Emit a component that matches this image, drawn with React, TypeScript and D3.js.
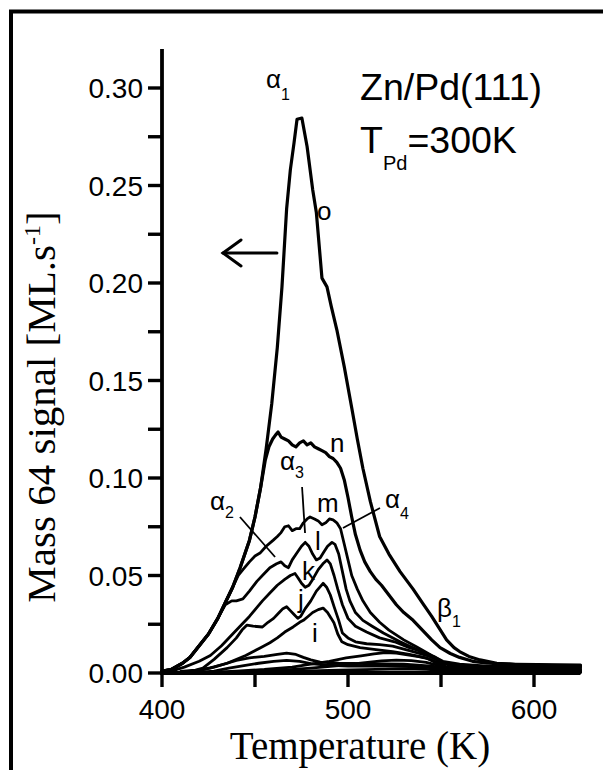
import React from "react";
import * as d3 from "d3";

// Thermal desorption spectra, mass 64 (Zn) from Zn/Pd(111), T_Pd = 300 K.
// Each series: [temperature (K), signal (ML/s)].
const curveO: [number, number][] = [
  [400, 0.001], [405, 0.0018], [411, 0.005], [415, 0.008], [420, 0.014], [425, 0.02], [430, 0.028],
  [434, 0.036], [438, 0.044], [442, 0.054], [447, 0.068], [450, 0.08], [453, 0.095], [456, 0.115],
  [459, 0.138], [462, 0.167], [464.5, 0.198], [467, 0.238], [469, 0.258], [471, 0.272], [472.6, 0.284],
  [475.2, 0.2846], [478, 0.27], [481, 0.248], [483, 0.236], [486, 0.2025], [488.7, 0.198], [491, 0.188],
  [494, 0.176], [498, 0.157], [502, 0.136], [505, 0.12], [508, 0.105], [512, 0.088], [517, 0.07],
  [522, 0.061], [528, 0.052], [535, 0.043], [540, 0.036], [545, 0.029], [549, 0.023], [553, 0.017],
  [557, 0.013], [560, 0.011], [565, 0.0085], [571, 0.0067], [580, 0.005], [592, 0.0042], [610, 0.0038],
  [625, 0.0035],
];

const curveN: [number, number][] = [
  [400, 0.001], [405, 0.0018], [411, 0.005], [415, 0.008], [420, 0.014], [425, 0.02], [430, 0.028],
  [434, 0.036], [438, 0.044], [442, 0.054], [447, 0.068], [450, 0.08], [453, 0.095], [455.5, 0.109],
  [457.5, 0.116], [459.5, 0.12], [461, 0.122], [462.4, 0.1236], [464, 0.121], [466, 0.12], [468, 0.119],
  [470, 0.117], [472, 0.116], [474, 0.118], [476, 0.119], [478, 0.117], [480, 0.118], [482, 0.116],
  [484, 0.115], [486, 0.114], [488, 0.113], [490, 0.111], [492, 0.11], [494, 0.108], [496, 0.105],
  [498, 0.099], [500, 0.09], [502, 0.08], [504, 0.071], [506.5, 0.063], [509, 0.057], [512, 0.052],
  [515, 0.048], [518, 0.045], [522, 0.04], [526, 0.035], [530, 0.031], [535, 0.027], [540, 0.022],
  [545, 0.017], [549.5, 0.013], [555, 0.01], [560, 0.008], [567, 0.006], [575, 0.005], [590, 0.0045],
  [625, 0.004],
];

const curveM: [number, number][] = [
  [400, 0.001], [405, 0.0018], [411, 0.005], [415, 0.008], [420, 0.014], [425, 0.02], [430, 0.028],
  [434, 0.036], [438, 0.044], [441, 0.05], [443.5, 0.053], [447, 0.057], [450, 0.06], [452.7, 0.0615],
  [456, 0.065], [459.7, 0.068], [462, 0.07], [464, 0.072], [466, 0.075], [468, 0.0755], [470, 0.073],
  [472, 0.074], [474, 0.074], [476, 0.077], [478, 0.079], [479.6, 0.08], [482, 0.079], [484, 0.078],
  [486, 0.076], [488, 0.077], [490, 0.079], [492, 0.0785], [494, 0.077], [496, 0.074], [498, 0.066],
  [500, 0.058], [502, 0.05], [505, 0.043], [508, 0.037], [512, 0.031], [517, 0.026], [522, 0.022],
  [530, 0.017], [537, 0.0133], [545, 0.009], [551, 0.006], [560, 0.0045], [575, 0.0035], [625, 0.003],
];

const curveL: [number, number][] = [
  [400, 0.001], [405, 0.0018], [411, 0.005], [415, 0.008], [420, 0.014], [425, 0.02], [430, 0.028],
  [434, 0.035], [437.5, 0.037], [440, 0.037], [443.5, 0.038], [447, 0.042], [451, 0.047], [455, 0.051],
  [458, 0.054], [461.6, 0.056], [464, 0.057], [466, 0.055], [468, 0.054], [470, 0.058], [472.5, 0.0615],
  [475, 0.065], [477, 0.067], [479, 0.065], [481, 0.061], [483, 0.058], [485, 0.059], [487, 0.062],
  [489, 0.065], [491.4, 0.067], [493, 0.066], [495, 0.061], [497, 0.052], [499, 0.043], [501, 0.037],
  [504, 0.031], [508, 0.027], [513, 0.024], [519, 0.0205], [528, 0.016], [537, 0.012], [545, 0.008],
  [551, 0.005], [560, 0.004], [580, 0.003], [625, 0.0028],
];

const curveK: [number, number][] = [
  [405, 0.001], [412, 0.003], [420, 0.006], [426, 0.009], [432, 0.014], [438, 0.02], [443, 0.025],
  [447, 0.029], [450.5, 0.033], [454, 0.037], [458, 0.041], [462, 0.045], [466, 0.048], [469, 0.05],
  [471.5, 0.051], [473, 0.049], [475, 0.046], [477, 0.044], [479, 0.045], [481, 0.048], [484, 0.053],
  [486.5, 0.056], [488.7, 0.058], [490.5, 0.056], [492.5, 0.05], [494.5, 0.043], [497, 0.035],
  [500, 0.028], [504, 0.024], [510, 0.021], [517, 0.018], [525, 0.016], [533, 0.013], [540, 0.011],
  [547, 0.008], [552, 0.005], [560, 0.0035], [580, 0.0025], [625, 0.0022],
];

const curveJ: [number, number][] = [
  [410, 0.0008], [418, 0.0015], [422, 0.0025], [428, 0.007], [435, 0.013], [440, 0.018], [443, 0.022],
  [445.7, 0.0246], [449, 0.024], [454, 0.0236], [457, 0.026], [460, 0.028], [463, 0.031], [465, 0.033],
  [467, 0.034], [469, 0.032], [471, 0.03], [473, 0.028], [474.5, 0.029], [477, 0.033], [480, 0.037],
  [483, 0.042], [486.6, 0.046], [488.5, 0.044], [490.5, 0.04], [492.5, 0.034], [495, 0.027],
  [497, 0.0205], [500, 0.018], [504, 0.016], [510, 0.015], [517, 0.0145], [524, 0.0138], [535, 0.011],
  [546, 0.008], [551, 0.005], [558, 0.003], [580, 0.002], [625, 0.0018],
];

const curveI: [number, number][] = [
  [410, 0.0005], [418, 0.0012], [426, 0.0026], [435, 0.005], [445, 0.009], [453, 0.013], [458, 0.0155],
  [462, 0.018], [466, 0.021], [470.5, 0.0236], [474, 0.026], [476, 0.027], [478.5, 0.029], [481, 0.031],
  [484, 0.0325], [486.6, 0.0333], [489, 0.031], [491, 0.028], [492.5, 0.0256], [494.5, 0.02],
  [496.7, 0.016], [500, 0.0145], [506.5, 0.013], [515, 0.012], [524, 0.011], [533, 0.0095],
  [542, 0.0077], [548, 0.005], [553, 0.003], [565, 0.0016], [625, 0.0014],
];

const curveH: [number, number][] = [
  [410, 0.0005], [420, 0.0012], [428, 0.003], [435, 0.005], [440, 0.0065], [447, 0.0078], [455, 0.0085],
  [462, 0.0095], [467, 0.0102], [472, 0.0095], [476, 0.008], [480, 0.0067], [485, 0.0056], [495, 0.005],
  [510, 0.0048], [530, 0.0045], [545, 0.0035], [552, 0.0025], [565, 0.0012], [625, 0.001],
];

const curveG: [number, number][] = [
  [420, 0.0004], [428, 0.001], [436, 0.0025], [444, 0.0038], [452, 0.005], [460, 0.006], [467, 0.0065],
  [474, 0.006], [480, 0.0048], [488, 0.004], [500, 0.0036], [520, 0.0035], [540, 0.0032], [552, 0.002],
  [565, 0.0008], [625, 0.0006],
];

const curveF: [number, number][] = [
  [425, 0.0003], [440, 0.001], [455, 0.0018], [470, 0.003], [480, 0.0045], [490, 0.006], [499, 0.0077],
  [507, 0.0088], [514, 0.0098], [520, 0.0105], [526, 0.0102], [532, 0.0093], [538, 0.0084],
  [543, 0.0074], [548, 0.0052], [553, 0.003], [560, 0.002], [625, 0.0015],
];

const curveE: [number, number][] = [
  [430, 0.0002], [450, 0.0008], [465, 0.0015], [480, 0.0025], [495, 0.0038], [508, 0.0052],
  [518, 0.0062], [526, 0.0066], [534, 0.0063], [542, 0.0055], [549, 0.0038], [555, 0.002], [565, 0.0005],
  [625, 0.0004],
];

const curveD: [number, number][] = [
  [430, 0.0001], [455, 0.0005], [475, 0.0009], [495, 0.0014], [515, 0.0019], [530, 0.0021],
  [542, 0.0019], [552, 0.0013], [565, 0.0003], [625, 0.0002],
];

const spectra = [curveD, curveE, curveF, curveG, curveH, curveI, curveJ, curveK, curveL, curveM, curveN, curveO];

const tempTicks = [400, 450, 500, 550, 600];
const tempTickLabels = ["400", "", "500", "", "600"];
const signalTicks = [0, 0.025, 0.05, 0.075, 0.1, 0.125, 0.15, 0.175, 0.2, 0.225, 0.25, 0.275, 0.3];
const signalTickLabels = ["0.00", "", "0.05", "", "0.10", "", "0.15", "", "0.20", "", "0.25", "", "0.30"];

const SANS = "'Liberation Sans', Arial, Helvetica, sans-serif";
const SERIF = "'Liberation Serif', 'Times New Roman', Times, serif";

export default function App() {
  const W = 603;
  const H = 770;
  const x = d3.scaleLinear().domain([400, 625]).range([162, 580.5]);
  const y = d3.scaleLinear().domain([0, 0.32]).range([673, 49]);

  const line = d3
    .line<[number, number]>()
    .x((d) => x(d[0]))
    .y((d) => y(d[1]))
    .curve(d3.curveLinear);

  const x0 = x(400);
  const y0 = y(0);

  return (
    <svg
      width={W}
      height={H}
      viewBox={`0 0 ${W} ${H}`}
      style={{ position: "absolute", left: 0, top: 0, background: "#fff" }}
    >
      <rect x={0} y={0} width={W} height={H} fill="#fff" />
      {/* outer frame, open at right and bottom */}
      <rect x={11} y={11.5} width={W + 40} height={H + 40} fill="none" stroke="#000" strokeWidth={4} />

      {/* spectra */}
      <g fill="none" stroke="#000" strokeLinejoin="round" strokeLinecap="round">
        {spectra.map((s, i) => (
          <path key={i} d={line(s) ?? ""} strokeWidth={i >= 10 ? 3.2 : 2.8} />
        ))}
      </g>

      {/* axes */}
      <g stroke="#000" strokeLinecap="butt">
        <line x1={x0} x2={x0} y1={y(0.32)} y2={y0 + 2} strokeWidth={3.8} />
        <line x1={x0 - 2} x2={x(625)} y1={y0} y2={y0} strokeWidth={3.8} />
        {signalTicks.map((t) => (
          <line key={"yt" + t} x1={x0 - 14} x2={x0} y1={y(t)} y2={y(t)} strokeWidth={3.4} />
        ))}
        {tempTicks.map((t) => (
          <line key={"xt" + t} x1={x(t)} x2={x(t)} y1={y0} y2={y0 + 14} strokeWidth={3.4} />
        ))}
      </g>
      <g fontFamily={SANS} fontSize={28} fill="#000">
        {signalTicks.map((t, i) =>
          signalTickLabels[i] ? (
            <text key={"yl" + t} x={x0 - 19} y={y(t) + 10} textAnchor="end">
              {signalTickLabels[i]}
            </text>
          ) : null
        )}
        {tempTicks.map((t, i) =>
          tempTickLabels[i] ? (
            <text key={"xl" + t} x={x(t)} y={y0 + 46} textAnchor="middle">
              {tempTickLabels[i]}
            </text>
          ) : null
        )}
      </g>

      {/* axis titles */}
      <text x={360} y={759} textAnchor="middle" fontFamily={SERIF} fontSize={39} fill="#000">
        Temperature (K)
      </text>
      <text
        transform={`translate(55, 407) rotate(-90)`}
        textAnchor="middle"
        fontFamily={SERIF}
        fontSize={41}
        fill="#000"
      >
        Mass 64 signal [ML.s
        <tspan fontSize={24} dy={-15}>-1</tspan>
        <tspan dy={15}>]</tspan>
      </text>

      {/* sample / conditions */}
      <g fontFamily={SANS} fill="#000">
        <text x={360} y={100} fontSize={37.5}>Zn/Pd(111)</text>
        <text x={360} y={153} fontSize={37.5}>
          T<tspan fontSize={20} dy={17}>Pd</tspan>
          <tspan dy={-17}>=300K</tspan>
        </text>
      </g>

      {/* peak and curve labels */}
      <g fontFamily={SANS} fontSize={26} fill="#000">
        <text x={x(455.9)} y={y(0.3)}>
          α<tspan fontSize={16} dy={12}>1</tspan>
        </text>
        <text x={x(483.3)} y={y(0.2323)}>o</text>
        <text x={x(490.3)} y={y(0.1133)}>n</text>
        <text x={x(463.4)} y={y(0.1041)}>
          α<tspan fontSize={16} dy={8}>3</tspan>
        </text>
        <text x={x(483.3)} y={y(0.0826)}>m</text>
        <text x={x(425.8)} y={y(0.0836)}>
          α<tspan fontSize={16} dy={8}>2</tspan>
        </text>
        <text x={x(519.9)} y={y(0.0846)}>
          α<tspan fontSize={16} dy={11}>4</tspan>
        </text>
        <text x={x(482.3)} y={y(0.0631)}>l</text>
        <text x={x(475.3)} y={y(0.0477)}>k</text>
        <text x={x(473.1)} y={y(0.0333)}>j</text>
        <text x={x(480.6)} y={y(0.0159)}>i</text>
        <text x={x(547.8)} y={y(0.0287)}>
          β<tspan fontSize={16} dy={10}>1</tspan>
        </text>
      </g>

      {/* leader lines */}
      <g stroke="#000" strokeWidth={1.8}>
        <line x1={x(475.3)} y1={y(0.0954)} x2={x(476.9)} y2={y(0.0718)} />
        <line x1={x(441.9)} y1={y(0.08)} x2={x(460.8)} y2={y(0.0595)} />
        <line x1={x(517.2)} y1={y(0.0846)} x2={x(497.3)} y2={y(0.0744)} />
      </g>

      {/* heating-direction arrow pointing at the left axis */}
      <g stroke="#000" strokeWidth={3} fill="none" strokeLinecap="round" strokeLinejoin="miter">
        <line x1={x(461.8)} y1={y(0.2154)} x2={x(432.8)} y2={y(0.2154)} />
        <polyline
          points={`${x(432.8) + 18},${y(0.2154) - 13} ${x(432.8)},${y(0.2154)} ${x(432.8) + 18},${y(0.2154) + 13}`}
        />
      </g>
    </svg>
  );
}
